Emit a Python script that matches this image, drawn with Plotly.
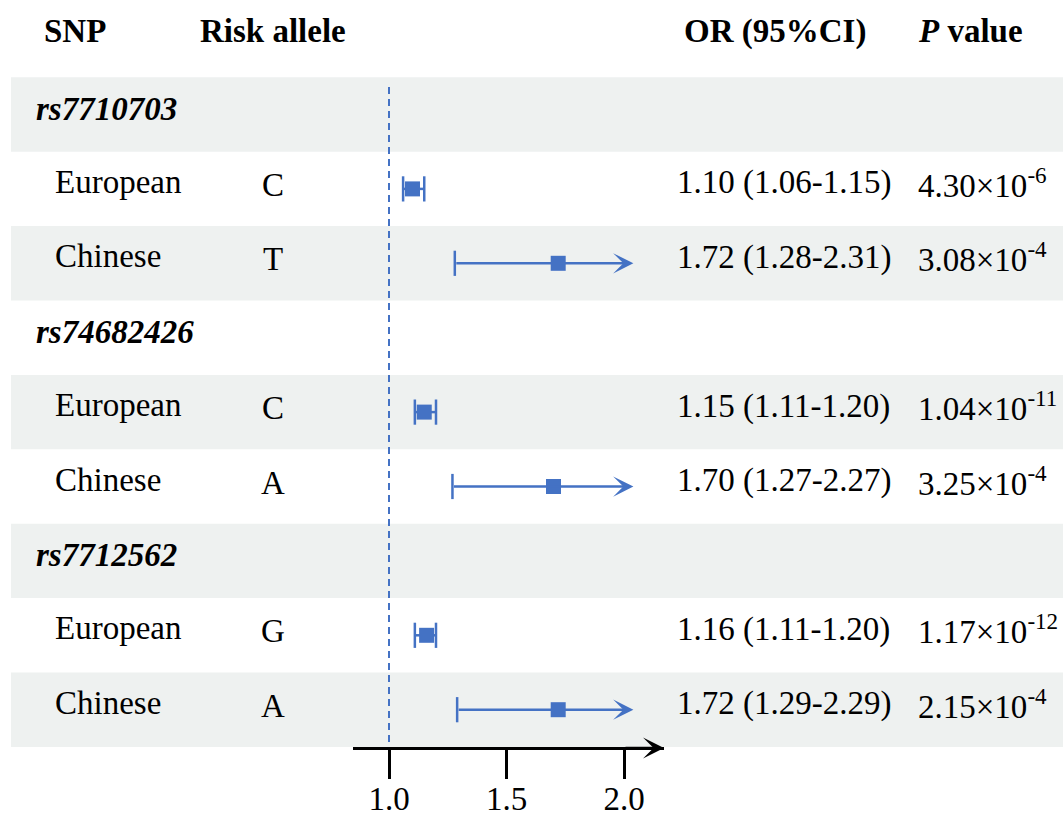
import plotly.graph_objects as go

# ---- data ----
snps = ["rs7710703", "rs74682426", "rs7712562"]
populations = ["European", "Chinese"]
risk_alleles = ["C", "T", "C", "A", "G", "A"]
or_vals = [1.10, 1.72, 1.15, 1.70, 1.16, 1.72]
ci_low = [1.06, 1.28, 1.11, 1.27, 1.11, 1.29]
ci_high = [1.15, 2.31, 1.20, 2.27, 1.20, 2.29]
p_mantissa = ["4.30", "3.08", "1.04", "3.25", "1.17", "2.15"]
p_exponent = [-6, -4, -11, -4, -12, -4]
tick_vals = [1.0, 1.5, 2.0]
ref_value = 1.0
ci_limit = 2.04  # CIs beyond this are drawn as arrows

# ---- layout constants ----
W, H = 1063, 814
BLUE = "#4472C4"
BAND = "#EEF1F0"
FONT = "Liberation Serif, Times New Roman, serif"
FS = 33

ROW0_PX, ROW_PX = 114.5, 74.4          # centre of first row, row pitch
PX_ONE, PX_PER_UNIT = 389.0, 235.0     # x position of OR=1 and scale
AXIS_PX0, AXIS_PX1, AXIS_Y_PX = 353.0, 664.0, 748.0


def xval(px):
    return 1.0 + (px - PX_ONE) / PX_PER_UNIT


y_top = (0 - ROW0_PX) / ROW_PX
y_bot = (H - ROW0_PX) / ROW_PX

# row index of every entry
rows = []
for k in range(len(snps)):
    rows += [3 * k + 1, 3 * k + 2]
n_rows = 3 * len(snps)

fig = go.Figure()

# CI lines (closed intervals only) and caps
line_x, line_y, cap_x, cap_y = [], [], [], []
for r, lo, hi in zip(rows, ci_low, ci_high):
    cap_x.append(lo)
    cap_y.append(r)
    if hi <= ci_limit:
        line_x += [lo, hi, None]
        line_y += [r, r, None]
        cap_x.append(hi)
        cap_y.append(r)

fig.add_trace(go.Scatter(x=line_x, y=line_y, mode="lines",
                         line=dict(color=BLUE, width=2.5),
                         hoverinfo="skip", showlegend=False))
fig.add_trace(go.Scatter(x=cap_x, y=cap_y, mode="markers",
                         marker=dict(symbol="line-ns", size=18,
                                     line=dict(color=BLUE, width=2.5)),
                         hoverinfo="skip", showlegend=False))
fig.add_trace(go.Scatter(x=or_vals, y=rows, mode="markers",
                         marker=dict(symbol="square", size=15, color=BLUE,
                                     line=dict(width=0)),
                         showlegend=False))

shapes = []
# alternating row bands
for i in range(0, n_rows, 2):
    shapes.append(dict(type="rect", xref="paper", yref="y",
                       x0=11 / W, x1=1, y0=i - 0.5, y1=i + 0.5,
                       fillcolor=BAND, line=dict(width=0), layer="below"))
# reference line at OR = 1
shapes.append(dict(type="line", xref="x", yref="y",
                   x0=ref_value, x1=ref_value,
                   y0=(87 - ROW0_PX) / ROW_PX, y1=(AXIS_Y_PX - ROW0_PX) / ROW_PX,
                   line=dict(color=BLUE, width=2, dash="7px,5px"), layer="below"))

annotations = []
txt = dict(font=dict(family=FONT, size=FS, color="black"), showarrow=False,
           xref="paper", yref="y", yanchor="middle")

# arrows for truncated intervals
for r, lo, hi in zip(rows, ci_low, ci_high):
    if hi > ci_limit:
        annotations.append(dict(x=ci_limit, y=r, ax=lo, ay=r, axref="x", ayref="y",
                                xref="x", yref="y", text="", showarrow=True,
                                arrowhead=3, arrowsize=1.35, arrowwidth=2.5,
                                arrowcolor=BLUE, standoff=0, startstandoff=0))

# axis arrowhead
annotations.append(dict(x=AXIS_PX1 / W, y=(H - AXIS_Y_PX) / H, xref="paper", yref="paper",
                        ax=-40, ay=0, text="", showarrow=True, arrowhead=3,
                        arrowsize=1.4, arrowwidth=2.5, arrowcolor="black", standoff=0))

# header row
y_head = (31 - ROW0_PX) / ROW_PX
annotations += [
    dict(txt, x=42 / W, y=y_head, xanchor="left", text="<b>SNP</b>"),
    dict(txt, x=273 / W, y=y_head, xanchor="center", text="<b>Risk allele</b>"),
    dict(txt, x=682 / W, y=y_head, xanchor="left", text="<b>OR (95%CI)</b>"),
    dict(txt, x=916 / W, y=y_head, xanchor="left", text="<b><i>P</i> value</b>"),
]

# SNP group rows
for k, s in enumerate(snps):
    annotations.append(dict(txt, x=34 / W, y=3 * k, xanchor="left",
                            text=f"<b><i>{s}</i></b>", yshift=6))

# population rows
for j, r in enumerate(rows):
    pop = populations[j % 2]
    annotations += [
        dict(txt, x=53 / W, y=r, xanchor="left", text=pop, yshift=7),
        dict(txt, x=273 / W, y=r, xanchor="center", text=risk_alleles[j], yshift=4),
        dict(txt, x=675 / W, y=r, xanchor="left", yshift=6,
             text=f"{or_vals[j]:.2f} ({ci_low[j]:.2f}-{ci_high[j]:.2f})"),
        dict(txt, x=916 / W, y=r, xanchor="left", yshift=6,
             text=f"{p_mantissa[j]}×10<sup>{p_exponent[j]}</sup>"),
    ]

fig.update_layout(
    width=W, height=H,
    margin=dict(l=0, r=0, t=0, b=0, autoexpand=False),
    paper_bgcolor="white", plot_bgcolor="white",
    shapes=shapes, annotations=annotations,
    xaxis=dict(domain=[AXIS_PX0 / W, AXIS_PX1 / W],
               range=[xval(AXIS_PX0), xval(AXIS_PX1)],
               anchor="free", position=(H - AXIS_Y_PX) / H, automargin=False,
               showgrid=False, zeroline=False,
               showline=True, linecolor="black", linewidth=2.5,
               ticks="outside", ticklen=29, tickwidth=2.5, tickcolor="black",
               ticklabelstandoff=-8,
               tickvals=tick_vals, ticktext=[f"{v:.1f}" for v in tick_vals],
               tickfont=dict(family=FONT, size=FS, color="black")),
    yaxis=dict(domain=[0, 1], range=[y_bot, y_top], visible=False,
               automargin=False, showgrid=False, zeroline=False),
)

fig.write_html("out.html")
